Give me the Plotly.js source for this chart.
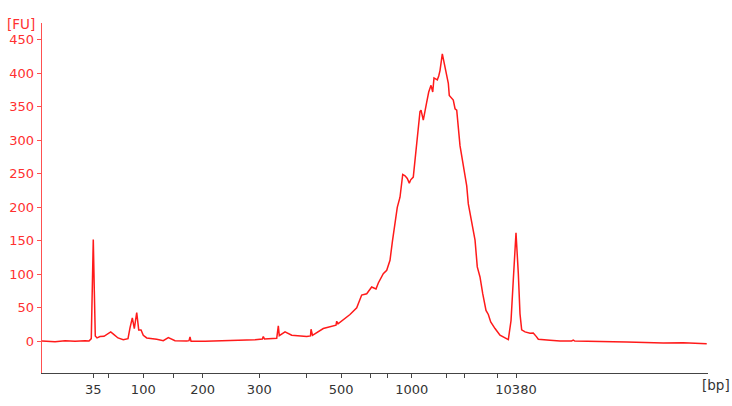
<!DOCTYPE html>
<html>
<head>
<meta charset="utf-8">
<title>Electropherogram</title>
<script src="https://cdn.plot.ly/plotly-3.0.1.min.js"></script>
<style>
  html, body { margin: 0; padding: 0; background: #fff; }
  #plot { width: 732px; height: 406px; }
</style>
</head>
<body>
<div id="plot"></div>
<script>
// migration time (s) and fluorescence (FU)
var time = [40.0, 41.63, 42.88, 44.13, 45.38, 45.88, 46.16, 46.29, 46.41, 46.54, 46.66, 46.88,
  47.25, 47.75, 48.25, 48.59, 49.0, 49.5, 50.16, 50.75, 51.0, 51.29, 51.54, 51.84, 52.09,
  52.38, 52.66, 53.09, 54.34, 55.16, 55.79, 56.63, 58.09, 58.38, 58.5, 58.63, 60.38, 62.25,
  64.75, 66.63, 67.54, 67.66, 67.81, 69.34, 69.54, 69.66, 70.38, 71.21, 73.09, 73.56, 73.63,
  73.81, 75.16, 76.41, 76.75, 76.84, 77.0, 78.5, 79.34, 79.96, 80.59, 81.21, 81.75, 82.04,
  82.66, 83.09, 83.5, 83.81, 84.13, 84.41, 84.75, 85.09, 85.38, 85.66, 85.91, 86.09, 86.41,
  86.84, 87.25, 87.38, 87.66, 88.09, 88.34, 88.63, 88.84, 89.0, 89.41, 89.59, 89.75, 90.04,
  90.16, 90.38, 90.59, 90.79, 90.91, 91.21, 91.41, 91.63, 91.84, 92.25, 92.66, 93.09, 93.29,
  93.71, 94.13, 94.41, 94.75, 95.09, 95.5, 95.79, 96.09, 96.63, 97.25, 98.29, 98.63, 98.91,
  99.25, 99.54, 99.75, 99.96, 100.38, 101.0, 101.41, 101.8, 102.04, 103.5, 104.75, 106.2,
  106.41, 106.6, 107.88, 109.34, 111.4, 113.09, 115.5, 117.66, 120.16, 121.5, 122.66, 123.09];
var fu = [0.5, -0.5, 0.8, 0, 1, 0.5, 4, 80, 152, 75, 8, 5,
  7, 7.5, 11, 14, 10, 5, 2.5, 4, 20, 35, 19, 43, 17,
  17, 9, 5, 3, 1, 5.5, 1, 0.5, 1, 6.5, 0, 0, 0.5,
  1.5, 2.5, 3.5, 7, 3.5, 4.5, 23, 8.5, 14, 9, 7, 8, 18,
  9, 19, 23, 24, 30, 26, 40, 50, 69, 71, 81, 78, 87,
  101, 106, 121, 150, 181, 200, 215, 249, 247, 243, 236, 241, 245,
  300, 343, 345, 330, 357, 372, 382, 372, 393, 390, 396, 404, 429,
  422, 407, 392, 385, 367, 362, 360, 347, 345, 292, 265, 232, 205,
  180, 151, 111, 96, 71, 46, 40, 29, 19, 9, 2.5, 31, 91,
  162, 101, 41, 17, 14, 12, 12.5, 7, 3, 1.5, 0.5, 0.5,
  1.8, 0.3, -0.2, -1, -0.8, -1, -1.8, -2.5, -2, -3, -4, -3.5];

// ladder positions (s) and their size labels
var ladderTime = [46.41, 48.34, 52.66, 56.41, 60.09, 67.16, 73.09, 77.38, 81.0, 83.21,
  86.21, 90.59, 92.75, 96.88, 99.25];
var ladderText = ["35", "", "100", "", "200", "300", "", "500", "", "",
  "1000", "", "", "", "10380"];
var fuTicks = [0, 50, 100, 150, 200, 250, 300, 350, 400, 450];

var red = "#ff1a1a";
var fnt = "DejaVu Sans, Verdana, sans-serif";

var trace = {
  x: time, y: fu, type: "scatter", mode: "lines",
  line: { color: red, width: 1.5 },
  hoverinfo: "skip"
};

var layout = {
  width: 732, height: 406,
  margin: { l: 42, r: 24, t: 23, b: 33, pad: 0 },
  paper_bgcolor: "#fff", plot_bgcolor: "#fff",
  showlegend: false,
  xaxis: {
    range: [40, 123.25], tickmode: "array", tickvals: ladderTime, ticktext: ladderText,
    showgrid: false, zeroline: false,
    showline: true, linecolor: "#444", linewidth: 1.2,
    ticks: "outside", ticklen: 4, tickcolor: "#444", tickwidth: 1,
    tickfont: { family: fnt, size: 13, color: "#333" }
  },
  yaxis: {
    range: [-47.3, 475], tickmode: "array", tickvals: fuTicks,
    showgrid: false, zeroline: false,
    showline: true, linecolor: "#ff5050", linewidth: 1.3,
    ticks: "outside", ticklen: 4, tickcolor: "#ff5050", tickwidth: 1,
    tickfont: { family: fnt, size: 13, color: "#ff3030" }
  },
  annotations: [
    { text: "[FU]", xref: "paper", yref: "paper", x: -0.0315, y: 0.996,
      xanchor: "center", yanchor: "middle", showarrow: false,
      font: { family: fnt, size: 13.5, color: "#ff3030" } },
    { text: "[bp]", xref: "paper", yref: "paper", x: 1.0125, y: -0.035,
      xanchor: "center", yanchor: "middle", showarrow: false,
      font: { family: fnt, size: 13.5, color: "#333" } }
  ]
};

Plotly.newPlot("plot", [trace], layout, { displayModeBar: false, staticPlot: true });
</script>
</body>
</html>
